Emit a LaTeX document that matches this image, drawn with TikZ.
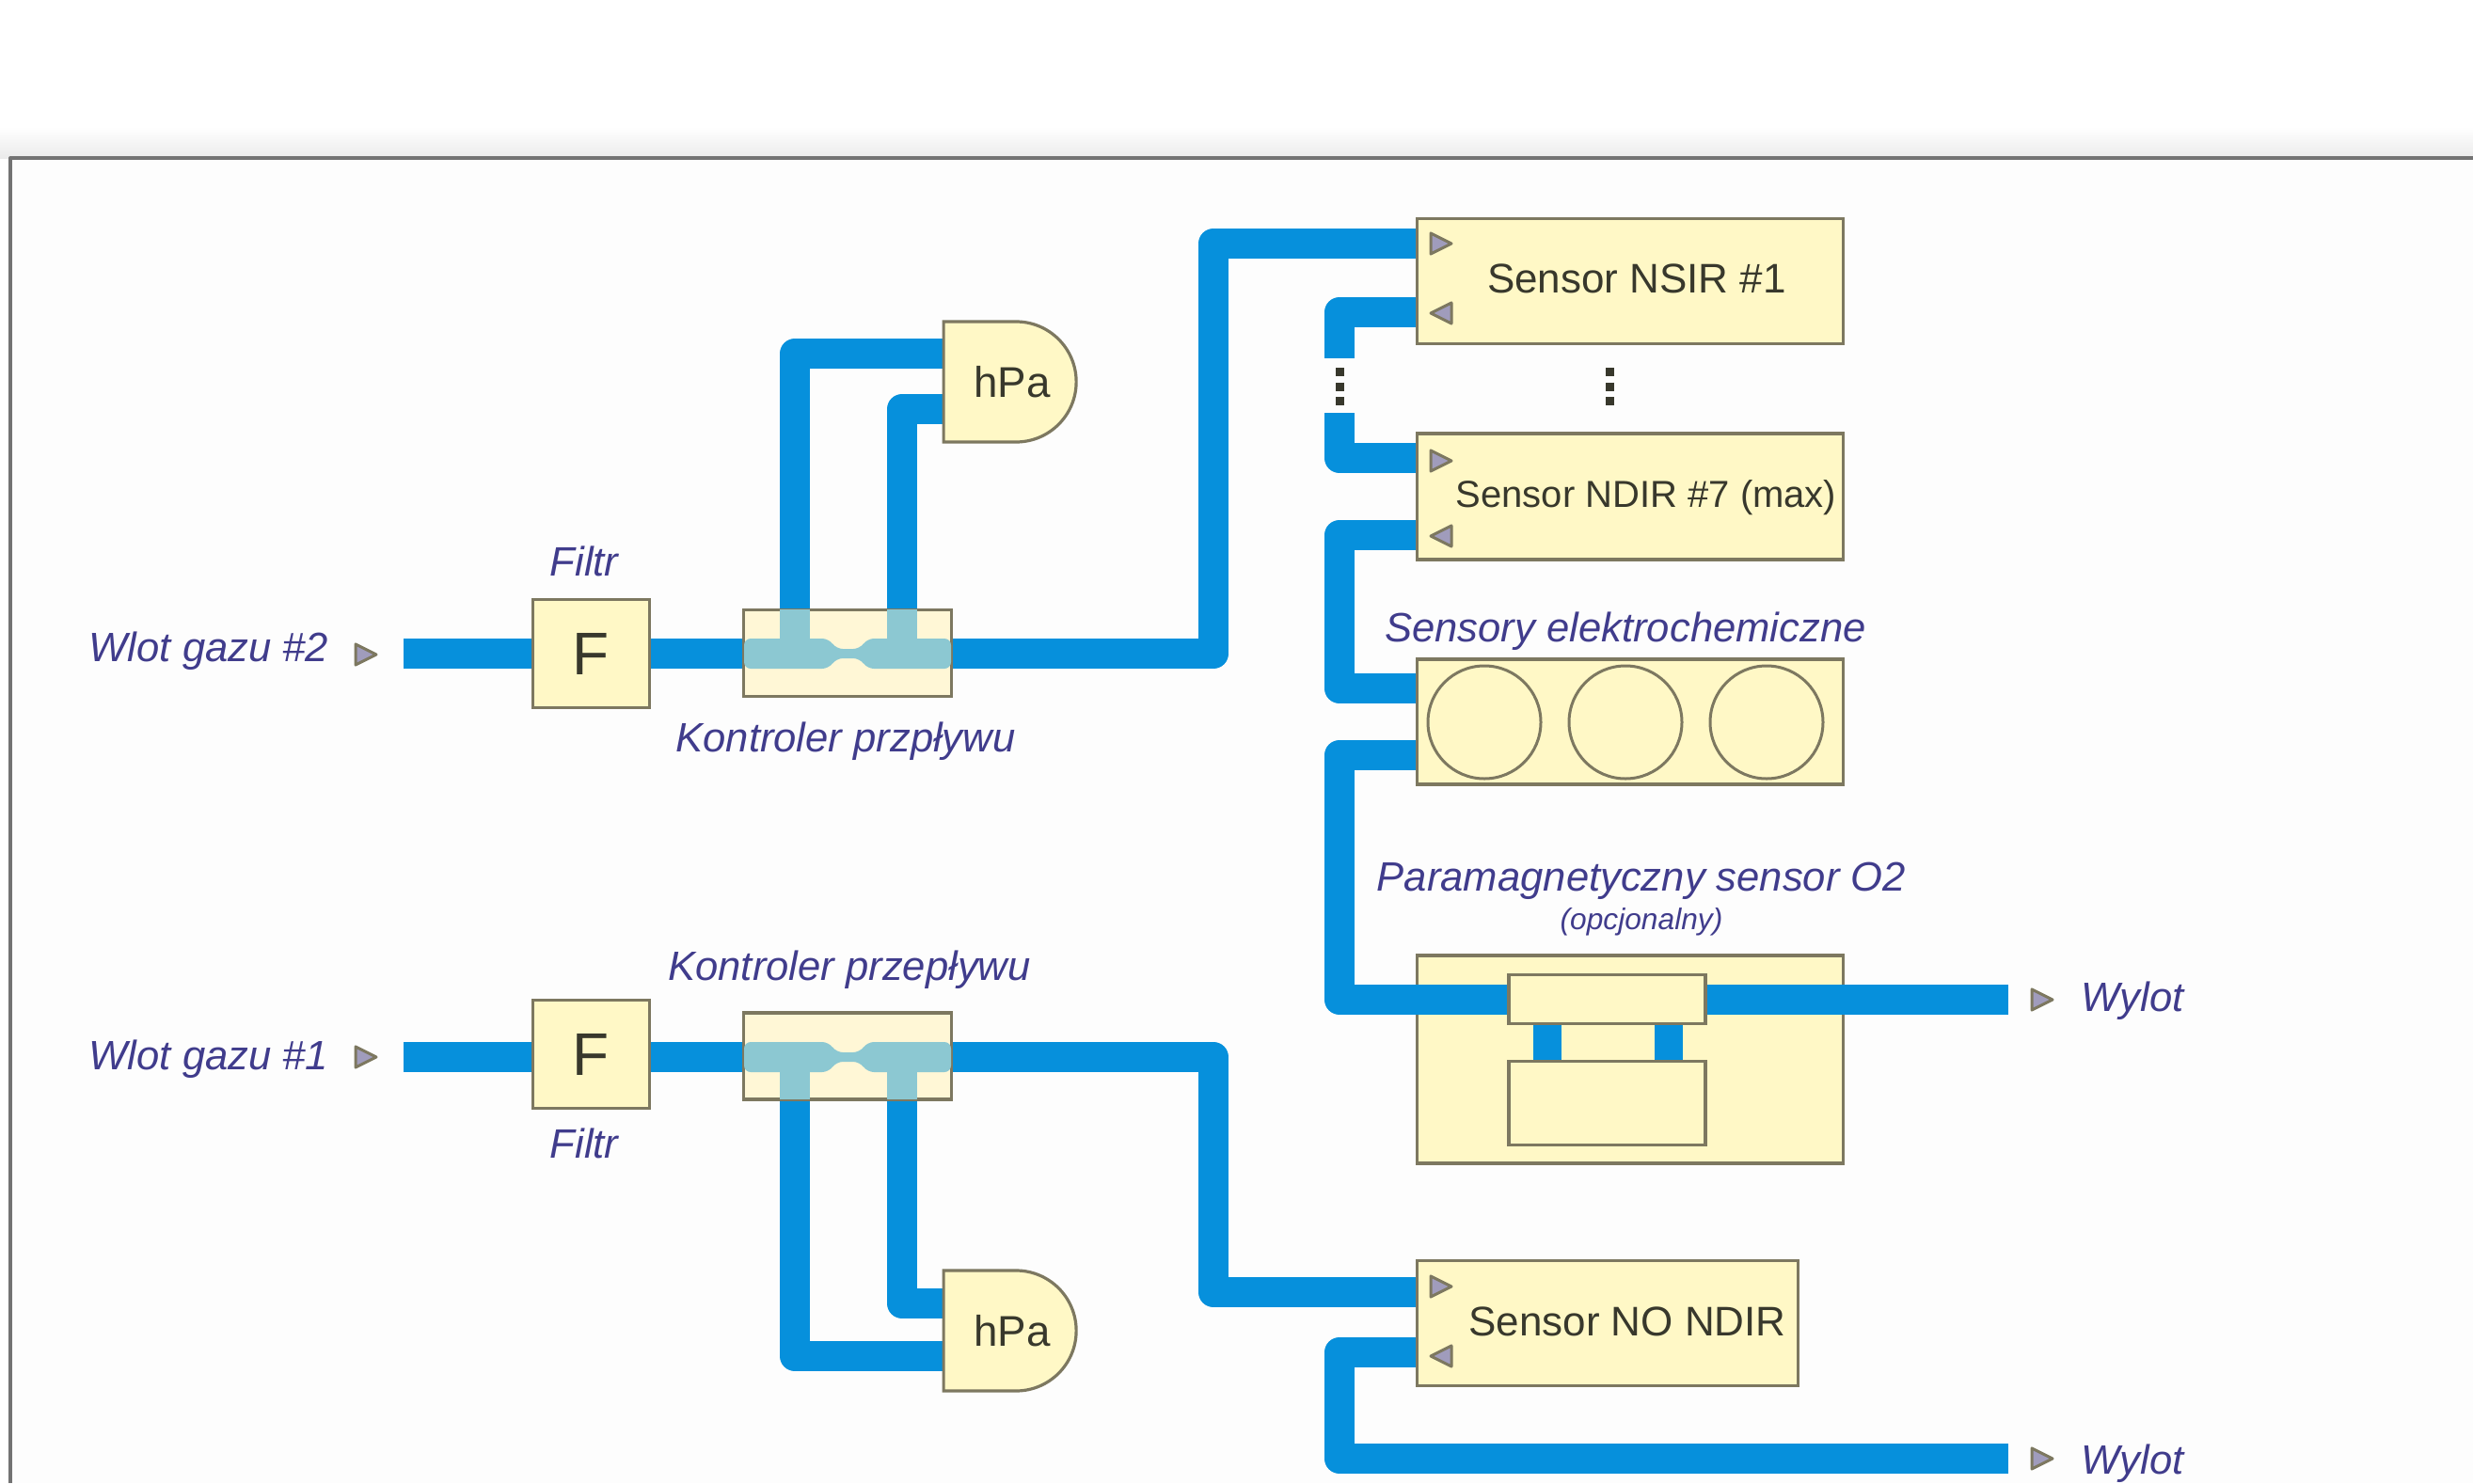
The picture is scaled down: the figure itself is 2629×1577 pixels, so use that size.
\documentclass[tikz,border=0pt]{standalone}
\usepackage{fontspec}
\setmainfont{Liberation Sans}
\usetikzlibrary{shapes.misc,backgrounds}
\definecolor{pipeblue}{HTML}{0690DC}
\definecolor{boxfill}{HTML}{FFF8C6}
\definecolor{ctlfill}{HTML}{FFF7D6}
\definecolor{boxline}{HTML}{7D7860}
\definecolor{teal}{HTML}{8CC8D2}
\definecolor{labelblue}{HTML}{403C8C}
\definecolor{inktext}{HTML}{38382C}
\definecolor{trifill}{HTML}{A09CBC}
\tikzset{
  x=1pt,y=-1pt,
  pipe/.style={draw=pipeblue,line width=32pt,line join=round,line cap=butt},
  thinpipe/.style={draw=pipeblue,line width=30pt},
  box/.style={draw=boxline,fill=boxfill,line width=3.2pt,inner sep=0pt,text=inktext},
  lab/.style={inner sep=0pt,text=labelblue,font=\fontsize{43.6}{50}\selectfont\itshape},
  sens/.style={inner sep=0pt,text=inktext,font=\fontsize{44}{50}\selectfont},
  cell/.style={circle,draw=boxline,line width=3pt,minimum size=120pt,inner sep=0pt},
  gauge/.style={box,rounded rectangle,rounded rectangle left arc=none,rounded rectangle arc length=180,
    minimum width=141pt,minimum height=128pt,font=\fontsize{45.7}{50}\selectfont},
  ftr/.style={box,minimum width=124pt,minimum height=115pt,font=\fontsize{64}{70}\selectfont},
  ctl/.style={box,fill=ctlfill,minimum width=221pt,minimum height=92pt},
  tri/.style={draw=boxline,fill=trifill,line width=3pt,line join=round},
  dots/.style={draw=inktext,line width=9pt,dash pattern=on 9pt off 6.5pt},
}
\newcommand{\triright}[2]{\draw[tri] (#1-11,#2-11) -- (#1+11,#2) -- (#1-11,#2+11) -- cycle;}
\newcommand{\trileft}[2]{\draw[tri] (#1+11,#2-11) -- (#1-11,#2) -- (#1+11,#2+11) -- cycle;}
\newcommand{\venturi}[3]{%
  \begin{scope}[shift={(901,#1)},yscale=#2]
    \fill[teal] (-72,-#3) rectangle (-40,0);
    \fill[teal] (42,-#3) rectangle (74,0);
    \fill[teal,rounded corners=7pt] (-110,-16) -- (-20,-16) -- (-12,-5) -- (13,-5) -- (21,-16) -- (110,-16)
      -- (110,16) -- (21,16) -- (13,5) -- (-12,5) -- (-20,16) -- (-110,16) -- cycle;
  \end{scope}}
\begin{document}
\begin{tikzpicture}
\useasboundingbox (0,0) rectangle (2629,1577);
% blocks
\node[ftr] (fB) at (628.5,695) {F};
\node[ftr] (fA) at (628.5,1121) {F};
\node[ctl] (cB) at (901,694.5) {};
\node[ctl] (cA) at (901,1123) {};
\venturi{695}{1}{47}
\venturi{1124}{-1}{45}
\node[gauge] (hB) at (1072.5,406) {\hspace*{7pt}hPa};
\node[gauge] (hA) at (1072.5,1415) {\hspace*{7pt}hPa};
\node[box,minimum width=453pt,minimum height=133pt] (s1) at (1733,299) {};
\node[box,minimum width=453pt,minimum height=134pt] (s7) at (1733,528) {};
\node[box,minimum width=453pt,minimum height=133pt] (el) at (1733,767.5) {};
\node[box,minimum width=453pt,minimum height=221pt] (o2) at (1733,1126.5) {};
\node[box,minimum width=405pt,minimum height=133pt] (no) at (1709,1407) {};
\node[cell] (c1) at (1578,768) {};
\node[cell] (c2) at (1728,768) {};
\node[cell] (c3) at (1878,768) {};
% outlet coordinates
\coordinate (inB) at (429,695);
\coordinate (inA) at (429,1124);
\coordinate (outO) at (2135,1063);
\coordinate (outN) at (2135,1551);
\coordinate (gapT) at (1424,381);
\coordinate (gapB) at (1424,439);
\coordinate (dotsL) at (1424,391);
\coordinate (dotsLe) at (1424,431);
\coordinate (dotsR) at (1711,391);
\coordinate (dotsRe) at (1711,431);
% pipes below the blocks
\begin{scope}[on background layer]
  \fill[white] (0,0) rectangle (2629,1577);
  \shade[top color=white,bottom color=black!8] (0,135) rectangle (2629,168);
  \fill[black!0.6] (11,168) rectangle (2629,1577);
  \draw[draw=black!55,line width=4pt,line join=round] (11,1577) -- (11,168) -- (2629,168);
  \draw[pipe] (inB) -- (fB.west);
  \draw[pipe] (fB.east |- inB) -- (cB.west |- inB);
  \draw[pipe] (cB.east |- inB) -- (1290,695) -- (1290,259) -- (s1.west |- 0,259);
  \draw[pipe] (cB.north -| 845,0) -- (845,376) -- (hB.west |- 0,376);
  \draw[pipe] (cB.north -| 959,0) -- (959,435) -- (hB.west |- 0,435);
  \draw[pipe] (inA) -- (fA.west |- inA);
  \draw[pipe] (fA.east |- inA) -- (cA.west |- inA);
  \draw[pipe] (cA.east |- inA) -- (1290,1124) -- (1290,1374) -- (no.west |- 0,1374);
  \draw[pipe] (cA.south -| 845,0) -- (845,1442) -- (hA.west |- 0,1442);
  \draw[pipe] (cA.south -| 959,0) -- (959,1386) -- (hA.west |- 0,1386);
  \draw[pipe] (s1.west |- 0,332) -- (1424,332) -- (gapT);
  \draw[pipe] (gapB) -- (1424,487) -- (s7.west |- 0,487);
  \draw[pipe] (s7.west |- 0,569) -- (1424,569) -- (1424,732) -- (el.west |- 0,732);
  \draw[pipe] (no.west |- 0,1438) -- (1424,1438) -- (1424,1551) -- (outN);
\end{scope}
% oxygen sensor: its pipes run over the outer box
\coordinate (i1w) at (1603,1063);
\draw[pipe] (el.west |- 0,803) -- (1424,803) -- (1424,1063) -- (i1w);
\coordinate (i1e) at (1814,1063);
\draw[pipe] (i1e) -- (outO);
\coordinate (p1t) at (1644.5,1089);
\coordinate (p1b) at (1644.5,1128);
\coordinate (p2t) at (1773.5,1089);
\coordinate (p2b) at (1773.5,1128);
\draw[thinpipe] (p1t) -- (p1b);
\draw[thinpipe] (p2t) -- (p2b);
\node[box,minimum width=209pt,minimum height=52pt] (oT) at (1708.5,1062.5) {};
\node[box,minimum width=209pt,minimum height=89pt] (oB) at (1708.5,1173) {};
% dots
\draw[dots] (dotsL) -- (dotsLe);
\draw[dots] (dotsR) -- (dotsRe);
% triangles
\triright{389}{696}
\triright{389}{1124}
\triright{2171}{1063}
\triright{2171}{1551}
\triright{1532}{259}
\trileft{1532}{333}
\triright{1532}{490}
\trileft{1532}{570}
\triright{1532}{1368}
\trileft{1532}{1442}
% labels
\node[lab] (l1) at (222,692) {Wlot gazu \#2};
\node[lab] (l2) at (222,1126) {Wlot gazu \#1};
\node[lab] (l3) at (621,597) {Filtr};
\node[lab] (l4) at (621,1216) {Filtr};
\node[lab] (l5) at (899,788) {Kontroler przpływu};
\node[lab] (l6) at (903,1031) {Kontroler przepływu};
\node[lab] (l7) at (1728,671) {Sensory elektrochemiczne};
\node[lab] (l8) at (1745,937) {Paramagnetyczny sensor O2};
\node[lab,font=\fontsize{31.7}{36}\selectfont\itshape] (l9) at (1745,980) {(opcjonalny)};
\node[lab] (l10) at (2267,1064) {Wylot};
\node[lab] (l11) at (2267,1556) {Wylot};
\node[sens] (t1) at (1740,296) {Sensor NSIR \#1};
\node[sens,font=\fontsize{40}{46}\selectfont] (t2) at (1750,529) {Sensor NDIR \#7 (max)};
\node[sens] (t3) at (1730,1405) {Sensor NO NDIR};
\end{tikzpicture}
\end{document}
